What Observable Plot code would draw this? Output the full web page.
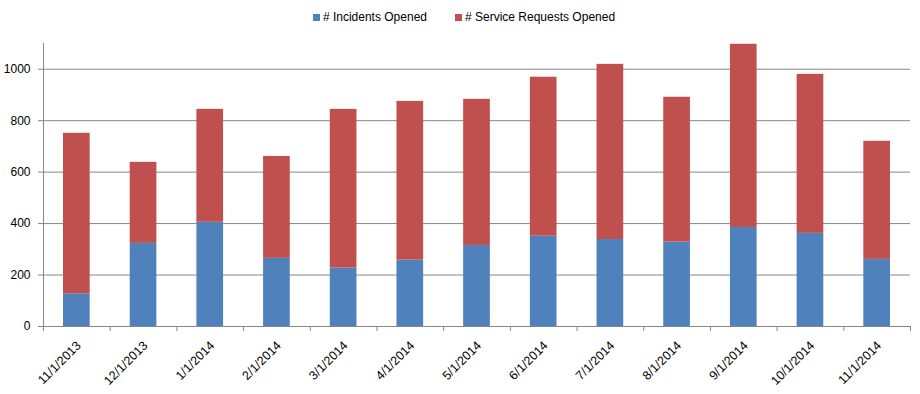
<!DOCTYPE html>
<html>
<head>
<meta charset="utf-8">
<script src="https://cdn.jsdelivr.net/npm/d3@7"></script>
<script src="https://cdn.jsdelivr.net/npm/@observablehq/plot@0.6"></script>
<style>
  body { margin: 0; background: #fff; font-family: "Liberation Sans", Arial, sans-serif; }
  #legend { height: 34px; display: flex; justify-content: center; align-items: flex-start; gap: 28px; font-size: 12px; color: #000; padding-left: 8px; }
  #legend .item { display: flex; align-items: center; margin-top: 10px; line-height: 14px; }
  #legend .sw { width: 7px; height: 7px; margin-right: 3px; }
</style>
</head>
<body>
<div id="legend"></div>
<div id="chart"></div>
<script>
const months = ["11/1/2013","12/1/2013","1/1/2014","2/1/2014","3/1/2014","4/1/2014","5/1/2014","6/1/2014","7/1/2014","8/1/2014","9/1/2014","10/1/2014","11/1/2014"];
const incidents = [127, 323, 405, 265, 227, 258, 315, 351, 338, 328, 385, 362, 261];
const serviceRequests = [624, 315, 439, 396, 617, 617, 568, 618, 681, 563, 712, 618, 459];
const seriesNames = ["# Incidents Opened", "# Service Requests Opened"];
const seriesColors = ["#4F81BD", "#C0504D"];
const yTicks = [0, 200, 400, 600, 800, 1000];

const data = months.flatMap((m, i) => [
  {month: m, series: seriesNames[0], value: incidents[i]},
  {month: m, series: seriesNames[1], value: serviceRequests[i]}
]);

const W = 920, H = 360, mL = 43, mR = 10, mT = 9, mB = 68;
const step = (W - mL - mR) / months.length;
const grid = "#878787";

const legend = document.getElementById("legend");
seriesNames.forEach((s, i) => {
  const it = document.createElement("div");
  it.className = "item";
  it.innerHTML = `<span class="sw" style="background:${seriesColors[i]}"></span><span>${s}</span>`;
  legend.appendChild(it);
});

const chart = Plot.plot({
  width: W, height: H,
  marginLeft: mL, marginRight: mR, marginTop: mT, marginBottom: mB,
  style: {fontFamily: "'Liberation Sans', Arial, sans-serif", fontSize: "12px", color: "#000", background: "#fff"},
  x: {domain: months, paddingInner: 0.6, paddingOuter: 0.3, round: false, label: null},
  y: {domain: [0, 1100], label: null},
  color: {domain: seriesNames, range: seriesColors},
  marks: [
    Plot.ruleY(yTicks, {stroke: grid, strokeWidth: 1}),
    Plot.barY(data, {x: "month", y: "value", fill: "series"}),
    Plot.ruleX([months[0]], {x: d => d, y1: 0, y2: 1100, dx: -step / 2, stroke: grid}),
    Plot.ruleX(months, {x: d => d, y1: 0, y2: 0, insetBottom: -5, dx: -step / 2, stroke: grid}),
    Plot.ruleX([months[months.length - 1]], {x: d => d, y1: 0, y2: 0, insetBottom: -5, dx: step / 2, stroke: grid}),
    Plot.axisY({ticks: yTicks, tickFormat: d => String(d), tickSize: 5, tickPadding: 8, stroke: grid, fontSize: 12, label: null, color: "#000"}),
    Plot.axisX({tickRotate: -45, tickSize: 0, tickPadding: 17, dx: 2, fontSize: 12.5, label: null})
  ]
});
document.getElementById("chart").appendChild(chart);
</script>
</body>
</html>
